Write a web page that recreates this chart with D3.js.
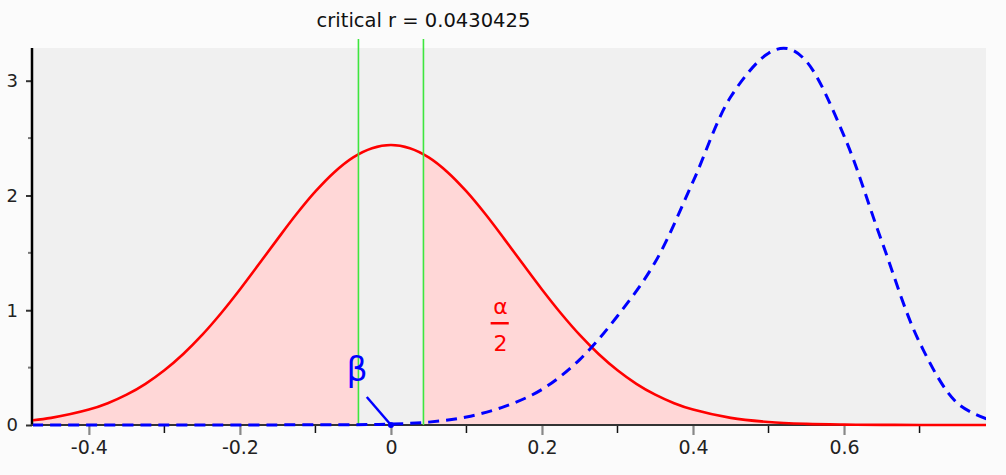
<!DOCTYPE html>
<html>
<head>
<meta charset="utf-8">
<script src="https://cdn.jsdelivr.net/npm/d3@7"></script>
<style>
  body { margin: 0; background: #fbfbfb; }
  svg { display: block; }
  text { font-family: "DejaVu Sans", Verdana, sans-serif; }
</style>
</head>
<body>
<svg id="main-svg" width="1006" height="475"></svg>
<script>
// values
var criticalR = 0.0430425;
var xTicks = [-0.4, -0.2, 0, 0.2, 0.4, 0.6];
var xMinorTicks = [-0.3, -0.1, 0.1, 0.3, 0.5, 0.7];
var yTicks = [0, 1, 2, 3];
var yMinorTicks = [0.5, 1.5, 2.5];

// H0 curve (red)
var nullR = [-0.475, -0.45, -0.4, -0.375, -0.35, -0.325, -0.3, -0.275, -0.25, -0.225, -0.2, -0.175,
             -0.15, -0.125, -0.1, -0.075, -0.05, -0.025, 0,
             0.025, 0.05, 0.075, 0.1, 0.125, 0.15, 0.175, 0.2, 0.225, 0.25, 0.275, 0.3,
             0.325, 0.35, 0.375, 0.4, 0.45, 0.5, 0.55, 0.6, 0.65, 0.7, 0.79];
var nullDensity = [0.041, 0.062, 0.134, 0.19, 0.264, 0.359, 0.477, 0.619, 0.785, 0.974, 1.181, 1.4,
                   1.622, 1.838, 2.035, 2.203, 2.332, 2.412, 2.44,
                   2.412, 2.332, 2.203, 2.035, 1.838, 1.622, 1.4, 1.181, 0.974, 0.785, 0.619, 0.477,
                   0.359, 0.264, 0.19, 0.134, 0.062, 0.026, 0.01, 0.0036, 0.0011, 0.0003, 0];

// H1 curve (blue, dashed)
var altR = [-0.475, -0.3, -0.15, -0.05, 0, 0.05, 0.1, 0.15, 0.2, 0.25, 0.3, 0.35, 0.4,
            0.45, 0.5, 0.525, 0.55, 0.6, 0.65, 0.7, 0.75, 0.79];
var altDensity = [0, 0, 0.001, 0.003, 0.008, 0.025, 0.07, 0.16, 0.31, 0.57, 0.95, 1.42, 2.12,
                  2.86, 3.24, 3.28, 3.17, 2.52, 1.6, 0.72, 0.19, 0.05];

var svg = d3.select("#main-svg");

var x = d3.scaleLinear().domain([-0.474, 0.788]).range([33, 986]);
var y = d3.scaleLinear().domain([0, 3.285]).range([425, 48]);

var nullPts = nullR.map(function(r, i){ return [r, nullDensity[i]]; });
var altPts = altR.map(function(r, i){ return [r, altDensity[i]]; });

// plot background
svg.append("rect")
   .attr("x", x(-0.474)).attr("y", y(3.285))
   .attr("width", x(0.788) - x(-0.474)).attr("height", y(0) - y(3.285))
   .attr("fill", "#f0f0f0");

// tails shading, clipped outside +-critical r
var defs = svg.append("defs");
var clip = defs.append("clipPath").attr("id", "tails");
clip.append("rect")
    .attr("x", x(-0.474)).attr("y", 0)
    .attr("width", x(-criticalR) - x(-0.474)).attr("height", 475);
clip.append("rect")
    .attr("x", x(criticalR)).attr("y", 0)
    .attr("width", x(0.788) - x(criticalR)).attr("height", 475);
var plotClip = defs.append("clipPath").attr("id", "plot");
plotClip.append("rect")
    .attr("x", x(-0.474)).attr("y", 0)
    .attr("width", x(0.788) - x(-0.474)).attr("height", y(0) + 2);

var area = d3.area()
    .x(function(d){ return x(d[0]); })
    .y0(y(0))
    .y1(function(d){ return Math.min(y(0), y(d[1])); })
    .curve(d3.curveCatmullRom.alpha(0.5));

svg.append("path")
   .datum(nullPts)
   .attr("d", area)
   .attr("fill", "#ffd7d7")
   .attr("clip-path", "url(#tails)");

// x axis
var xAxis = d3.axisBottom(x)
    .tickValues(xTicks)
    .tickSize(10)
    .tickPadding(6)
    .tickFormat(function(d){ return String(d); });

var gx = svg.append("g").attr("transform", "translate(0," + y(0) + ")").call(xAxis);
gx.select(".domain").remove();
gx.selectAll(".tick line").attr("stroke", "#888").attr("stroke-width", 2.2);
gx.selectAll(".tick text")
  .attr("font-family", "DejaVu Sans, sans-serif")
  .attr("font-size", 19)
  .attr("fill", "#222");

svg.append("g").selectAll("line")
   .data(xMinorTicks).enter().append("line")
   .attr("x1", function(d){ return x(d); }).attr("x2", function(d){ return x(d); })
   .attr("y1", y(0)).attr("y2", y(0) + 8)
   .attr("stroke", "#111").attr("stroke-width", 1.5);

// y axis
var yAxis = d3.axisLeft(y)
    .tickValues(yTicks)
    .tickSize(6)
    .tickPadding(8)
    .tickFormat(function(d){ return String(d); });

var gy = svg.append("g").attr("transform", "translate(" + (x(-0.474) - 1) + ",0)").call(yAxis);
gy.select(".domain").remove();
gy.selectAll(".tick line").attr("stroke", "#333").attr("stroke-width", 2);
gy.selectAll(".tick text")
  .attr("font-family", "DejaVu Sans, sans-serif")
  .attr("font-size", 18)
  .attr("fill", "#222");

svg.append("g").selectAll("line")
   .data(yMinorTicks).enter().append("line")
   .attr("x1", x(-0.474) - 5).attr("x2", x(-0.474) - 1)
   .attr("y1", function(d){ return y(d); }).attr("y2", function(d){ return y(d); })
   .attr("stroke", "#777").attr("stroke-width", 2);

svg.append("line")
   .attr("x1", x(-0.474) - 1).attr("x2", x(-0.474) - 1)
   .attr("y1", y(3.285)).attr("y2", y(0) + 1)
   .attr("stroke", "#000").attr("stroke-width", 2.5);

svg.append("line")
   .attr("x1", x(-0.474) - 2).attr("x2", x(0.788))
   .attr("y1", y(0)).attr("y2", y(0))
   .attr("stroke", "#333").attr("stroke-width", 2);

// curves
var line = d3.line()
    .x(function(d){ return x(d[0]); })
    .y(function(d){ return Math.min(y(0), y(d[1])); })
    .curve(d3.curveCatmullRom.alpha(0.5));

svg.append("path")
   .datum(nullPts)
   .attr("d", line)
   .attr("fill", "none")
   .attr("stroke", "#ff0000")
   .attr("stroke-width", 2.6)
   .attr("clip-path", "url(#plot)");

// critical r lines
svg.append("g").selectAll("line")
   .data([-criticalR, criticalR]).enter().append("line")
   .attr("x1", function(d){ return x(d); }).attr("x2", function(d){ return x(d); })
   .attr("y1", 39).attr("y2", y(0))
   .attr("stroke", "#3ee63e").attr("stroke-width", 1.6);

svg.append("path")
   .datum(altPts)
   .attr("d", line)
   .attr("fill", "none")
   .attr("stroke", "#0000ff")
   .attr("stroke-width", 3)
   .attr("stroke-dasharray", "11,7")
   .attr("clip-path", "url(#plot)");

// title
svg.append("text")
   .attr("x", x(criticalR)).attr("y", 27)
   .attr("text-anchor", "middle")
   .attr("font-size", 19.5)
   .attr("fill", "#111")
   .text("critical r = " + criticalR);

// alpha / 2 label
var alphaG = svg.append("g").attr("fill", "#ff0000");
alphaG.append("text")
   .attr("x", x(0.145)).attr("y", 314)
   .attr("text-anchor", "middle").attr("font-size", 22)
   .text("α");
alphaG.append("rect")
   .attr("x", x(0.132)).attr("y", 322)
   .attr("width", x(0.156) - x(0.132)).attr("height", 2.5);
alphaG.append("text")
   .attr("x", x(0.145)).attr("y", 351)
   .attr("text-anchor", "middle").attr("font-size", 22)
   .text("2");

// beta label with pointer
svg.append("text")
   .attr("x", x(-0.045)).attr("y", 381)
   .attr("text-anchor", "middle")
   .attr("font-size", 33)
   .attr("fill", "#0000ff")
   .text("β");
svg.append("line")
   .attr("x1", x(-0.032)).attr("y1", 397)
   .attr("x2", x(0)).attr("y2", y(0))
   .attr("stroke", "#0000ff").attr("stroke-width", 2.5);
svg.append("circle")
   .attr("cx", x(0)).attr("cy", y(0)).attr("r", 3)
   .attr("fill", "#0000ff");
</script>
</body>
</html>
